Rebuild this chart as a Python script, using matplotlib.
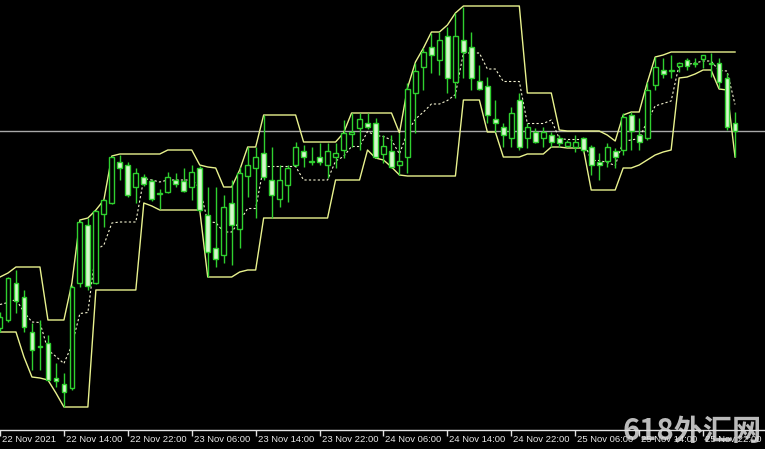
import numpy as np
import pandas as pd
import matplotlib
matplotlib.use("Agg")
import matplotlib.pyplot as plt


# hourly bars, 22 Nov 2021 06:00 onwards
times = pd.date_range("2021-11-22 06:00", periods=93, freq="h")

opens = [1817.2, 1818.0, 1821.7, 1820.3, 1816.8, 1815.3, 1815.7, 1812.2, 1811.6, 1811.2,
         1821.7, 1827.5, 1821.7, 1828.6, 1829.7, 1833.8, 1833.5, 1831.3, 1832.3, 1831.9,
         1830.6, 1830.8, 1832.0, 1831.9, 1831.3, 1833.2, 1828.5, 1825.2, 1824.5, 1829.7,
         1827.1, 1832.4, 1833.2, 1834.7, 1832.0, 1830.1, 1831.5, 1833.5, 1834.9, 1833.8,
         1834.3, 1833.5, 1834.3, 1835.0, 1836.6, 1837.2, 1837.7, 1837.7, 1834.6, 1834.9,
         1833.5, 1834.3, 1840.7, 1843.3, 1845.3, 1844.0, 1846.4, 1841.8, 1846.0, 1845.3,
         1841.9, 1841.4, 1838.1, 1837.3, 1836.2, 1840.0, 1836.2, 1836.8, 1836.2, 1836.5,
         1836.2, 1835.4, 1835.3, 1836.2, 1835.3, 1833.8, 1833.9, 1834.9, 1835.0, 1838.5,
         1836.5, 1836.2, 1841.5, 1843.0, 1842.9, 1843.4, 1844.0, 1843.6, 1844.1, 1843.6,
         1843.7, 1842.2, 1837.7]
highs = [1818.8, 1822.3, 1823.0, 1821.0, 1817.7, 1818.0, 1816.5, 1813.7, 1812.7, 1821.5,
         1828.0, 1828.2, 1829.0, 1830.1, 1834.4, 1834.5, 1833.8, 1833.2, 1832.6, 1832.1,
         1831.1, 1832.8, 1832.7, 1833.2, 1833.5, 1833.4, 1831.3, 1831.3, 1830.5, 1832.0,
         1833.3, 1835.3, 1835.3, 1838.5, 1835.3, 1833.5, 1833.5, 1835.8, 1835.5, 1835.3,
         1835.7, 1835.7, 1835.7, 1838.0, 1838.7, 1838.7, 1838.7, 1838.2, 1836.5, 1836.5,
         1836.7, 1841.7, 1843.7, 1845.2, 1846.7, 1846.8, 1847.3, 1848.7, 1849.3, 1846.8,
         1843.5, 1842.3, 1840.0, 1837.7, 1839.3, 1840.7, 1837.7, 1837.2, 1837.3, 1836.8,
         1836.5, 1836.0, 1836.5, 1836.3, 1835.5, 1834.7, 1835.7, 1835.2, 1838.7, 1838.8,
         1838.2, 1841.8, 1844.3, 1844.2, 1844.5, 1843.8, 1844.2, 1844.2, 1844.5, 1844.7,
         1844.2, 1842.7, 1838.8]
lows = [1816.8, 1817.8, 1818.7, 1816.8, 1813.0, 1813.0, 1812.0, 1811.3, 1809.3, 1811.0,
        1821.3, 1821.0, 1821.6, 1827.3, 1829.6, 1832.0, 1830.3, 1829.7, 1831.4, 1829.9,
        1829.1, 1830.7, 1831.3, 1830.8, 1830.0, 1828.8, 1822.3, 1823.3, 1823.7, 1823.5,
        1825.2, 1830.3, 1828.2, 1832.0, 1828.2, 1829.3, 1829.8, 1833.3, 1833.3, 1833.5,
        1833.5, 1832.2, 1833.2, 1834.2, 1835.3, 1835.0, 1837.1, 1834.2, 1833.7, 1833.2,
        1832.5, 1832.7, 1836.7, 1841.0, 1842.7, 1842.5, 1840.7, 1840.2, 1842.2, 1841.0,
        1841.0, 1837.7, 1836.8, 1835.3, 1835.3, 1835.0, 1835.2, 1835.7, 1835.3, 1835.3,
        1835.3, 1835.3, 1834.8, 1834.8, 1832.5, 1832.0, 1833.3, 1833.2, 1834.5, 1835.0,
        1835.0, 1836.0, 1841.0, 1842.2, 1842.2, 1842.8, 1843.0, 1843.3, 1843.2, 1842.3,
        1841.2, 1837.0, 1834.3]
closes = [1818.3, 1822.2, 1819.9, 1817.3, 1815.0, 1815.4, 1812.0, 1811.9, 1810.8, 1821.3,
          1827.8, 1821.4, 1828.9, 1830.0, 1834.3, 1833.2, 1830.5, 1832.7, 1831.6, 1830.1,
          1830.7, 1832.3, 1831.6, 1830.9, 1832.8, 1829.0, 1824.8, 1824.1, 1829.3, 1827.5,
          1832.7, 1833.5, 1834.3, 1832.3, 1830.5, 1832.0, 1833.2, 1835.3, 1834.3, 1833.9,
          1833.8, 1834.9, 1834.7, 1836.7, 1836.8, 1838.1, 1837.3, 1834.3, 1835.4, 1833.3,
          1833.9, 1841.1, 1842.9, 1844.8, 1844.5, 1846.0, 1842.2, 1846.4, 1844.8, 1842.2,
          1841.1, 1838.5, 1837.7, 1836.5, 1838.7, 1835.3, 1837.3, 1835.8, 1836.8, 1835.8,
          1835.7, 1835.8, 1835.8, 1835.0, 1833.5, 1833.5, 1835.3, 1834.3, 1838.3, 1836.9,
          1835.8, 1841.0, 1843.3, 1842.6, 1843.0, 1843.7, 1843.4, 1843.7, 1844.5, 1843.7,
          1841.8, 1837.3, 1836.9]

# price channel lines as shown on the chart
upper = [1822.3, 1822.7, 1823.3, 1823.3, 1823.3, 1823.3, 1818.0, 1818.0, 1818.0, 1821.7,
         1828.0, 1828.2, 1829.0, 1830.0, 1834.4, 1834.6, 1834.6, 1834.6, 1834.6, 1834.6,
         1834.6, 1835.0, 1835.0, 1835.0, 1835.0, 1833.5, 1833.3, 1833.2, 1831.3, 1831.3,
         1833.0, 1835.3, 1835.3, 1838.5, 1838.5, 1838.5, 1838.5, 1838.5, 1835.8, 1835.8,
         1835.8, 1835.8, 1835.8, 1836.7, 1838.7, 1838.7, 1838.7, 1838.7, 1838.7, 1838.7,
         1836.7, 1841.2, 1843.8, 1845.2, 1846.8, 1846.8, 1847.5, 1848.7, 1849.4, 1849.4,
         1849.4, 1849.4, 1849.4, 1849.4, 1849.4, 1849.4, 1840.7, 1840.7, 1840.7, 1840.7,
         1837.0, 1836.9, 1836.9, 1836.9, 1836.9, 1836.9, 1836.5, 1835.9, 1838.5, 1838.8,
         1838.8, 1841.7, 1844.3, 1844.5, 1844.8, 1844.8, 1844.8, 1844.8, 1844.8, 1844.8,
         1844.8, 1844.8, 1844.8]
lower = [1816.8, 1816.8, 1816.8, 1814.3, 1812.3, 1812.2, 1812.0, 1810.7, 1809.3, 1809.3,
         1809.3, 1809.3, 1821.0, 1821.0, 1821.0, 1821.0, 1821.0, 1821.0, 1829.7, 1829.4,
         1829.0, 1829.0, 1829.0, 1829.0, 1829.0, 1829.0, 1822.3, 1822.3, 1822.3, 1822.3,
         1822.8, 1823.0, 1823.0, 1828.2, 1828.2, 1828.2, 1828.2, 1828.2, 1828.2, 1828.2,
         1828.2, 1828.2, 1832.0, 1832.0, 1832.0, 1832.0, 1835.0, 1834.2, 1834.0, 1833.3,
         1832.5, 1832.4, 1832.4, 1832.4, 1832.4, 1832.4, 1832.4, 1832.4, 1840.0, 1840.0,
         1840.0, 1836.8, 1836.8, 1834.3, 1834.3, 1834.3, 1834.6, 1834.6, 1834.6, 1835.3,
         1835.3, 1835.2, 1835.2, 1835.2, 1831.0, 1831.0, 1831.0, 1831.0, 1833.2, 1833.2,
         1833.5, 1834.0, 1834.5, 1834.8, 1835.0, 1842.2, 1842.3, 1842.6, 1843.0, 1843.0,
         1841.1, 1841.0, 1834.3]

bid = 1836.9

GREEN = "#2fd02f"
PALE = "#d6f8cc"
BAND = "#e9f28e"


def main():
	o = np.array(opens)
	h = np.array(highs)
	l = np.array(lows)
	c = np.array(closes)
	up = np.array(upper)
	lo = np.array(lower)
	x = np.arange(len(o))

	fig = plt.figure(figsize=(7.65, 4.49), dpi=100, facecolor="black")
	ax = fig.add_axes([0, 19 / 449, 1, 430 / 449])
	ax.set_facecolor("black")

	# channel
	ax.plot(x, up, color=BAND, lw=1.0, zorder=2)
	ax.plot(x, lo, color=BAND, lw=1.0, zorder=2)
	ax.plot(x, (up + lo) / 2, color="#f2f2d0", lw=0.8, ls=(0, (2, 2)), zorder=2)

	# bid line
	ax.axhline(bid, color="#a8a8a8", lw=1.0, zorder=1)

	# candles
	bull = c >= o
	bottom = np.minimum(o, c)
	height = np.abs(c - o)
	ax.vlines(x, l, h, color=GREEN, lw=1.0, zorder=3)
	ax.bar(x[bull], height[bull], bottom=bottom[bull], width=0.6,
	       facecolor="black", edgecolor=GREEN, lw=1.0, zorder=4)
	ax.bar(x[~bull], height[~bull], bottom=bottom[~bull], width=0.6,
	       facecolor=PALE, edgecolor=GREEN, lw=1.0, zorder=4)

	ax.set_xlim(0.125, 95.75)
	ax.set_ylim(1807.0, 1850.0)

	for s in ["top", "left", "right"]:
		ax.spines[s].set_visible(False)
	ax.spines["bottom"].set_color("#e0e0e0")
	ax.spines["bottom"].set_linewidth(1.0)
	ax.set_yticks([])

	""" time labels every 8 bars """
	ticks = list(range(0, len(x), 8))
	ax.set_xticks(ticks)
	ax.set_xticklabels([])
	ax.tick_params(axis="x", colors="#e0e0e0", direction="out", length=4, width=1)
	for i in ticks:
		if i == 0:
			label = "22 Nov 2021"
		else:
			t = times[i]
			label = t.strftime("%d %b %H:%M")
		ax.annotate(label, xy=(i, 0), xycoords=("data", "axes fraction"),
		            xytext=(2, -5), textcoords="offset pixels",
		            ha="left", va="top", color="#e8e8e8",
		            fontsize=6.8, family="Liberation Sans", annotation_clip=False)

	fig.text(762 / 765, 3 / 449, "618外汇网", ha="right", va="bottom",
	         fontsize=21, fontweight="bold", color="#dcdcdc", alpha=0.85,
	         family=["Noto Sans CJK SC", "DejaVu Sans"])

	fig.savefig("out.png", dpi=100, facecolor="black")


if __name__ == '__main__':
	main()
